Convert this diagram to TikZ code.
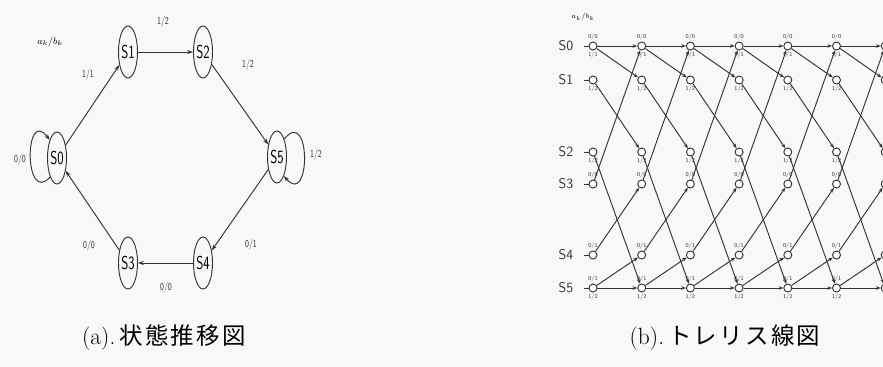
\documentclass[tikz,border=0pt]{standalone}
\usepackage{fontspec}
\usepackage{graphicx}
\usetikzlibrary{shapes.geometric,arrows.meta}
\newfontfamily\cjk[LetterSpace=10]{Noto Sans CJK JP}
\definecolor{inkgray}{HTML}{333333}
\definecolor{paper}{HTML}{F8F8F6}
\newcommand{\nar}[1]{\scalebox{0.72}[1]{#1}}

\begin{document}
\begin{tikzpicture}[x=0.03cm,y=-0.03cm,
    >={Stealth[length=5pt,width=3.5pt]},
    state/.style={ellipse,draw=inkgray,line width=0.8pt,minimum width=0.57cm,
      minimum height=1.56cm,inner sep=0pt,font=\fontsize{16}{16}\sffamily},
    sedge/.style={->,draw=inkgray,line width=0.8pt},
    elabel/.style={font=\fontsize{9}{9}\sffamily,text=inkgray},
    tnode/.style={circle,draw=inkgray,fill=white,line width=0.8pt,
      minimum size=0.24cm,inner sep=0pt},
    tedge/.style={draw=inkgray,line width=0.8pt,
      -{Stealth[length=4pt,width=3pt]}},
    tlab/.style={font=\fontsize{5}{5}\sffamily,text=inkgray,inner sep=0.8pt},
    rowlab/.style={font=\fontsize{12}{12}\sffamily,text=inkgray},
    caption/.style={font=\fontsize{20}{24}\selectfont}]
  \useasboundingbox (0,0) rectangle (883,367);
  \fill[paper] (0,0) rectangle (883,367);
  \clip (0,0) rectangle (883,367);

  % (a) state diagram
  \node[state] (s0) at (57,158) {\nar{S0}};
  \node[state] (s1) at (128,52) {\nar{S1}};
  \node[state] (s2) at (203,52) {\nar{S2}};
  \node[state] (s5) at (277,157) {\nar{S5}};
  \node[state] (s4) at (203,263) {\nar{S4}};
  \node[state] (s3) at (128,263) {\nar{S3}};
  \draw[sedge] (s0) -- (s1);
  \draw[sedge] (s1) -- (s2);
  \draw[sedge] (s2) -- (s5);
  \draw[sedge] (s5) -- (s4);
  \draw[sedge] (s4) -- (s3);
  \draw[sedge] (s3) -- (s0);
  \draw[sedge] (s0.-110) .. controls (24,206) and (24,106) .. (s0.112);
  \draw[sedge] (s5.68) .. controls (311,106) and (311,208) .. (s5.-70);
  \node[font=\fontsize{8}{8}\selectfont] (ab1) at (50,42) {$a_k/b_k$};
  \node[elabel] (l01) at (88,75) {\nar{1/1}};
  \node[elabel] (l12) at (163,22) {\nar{1/2}};
  \node[elabel] (l25) at (248,65) {\nar{1/2}};
  \node[elabel] (l55) at (316,155) {\nar{1/2}};
  \node[elabel] (l00) at (20,160) {\nar{0/0}};
  \node[elabel] (l54) at (251,245) {\nar{0/1}};
  \node[elabel] (l43) at (166,288) {\nar{0/0}};
  \node[elabel] (l30) at (89,246) {\nar{0/0}};
  \node[caption] (capa) at (164,338) {(a).\,{\cjk 状態推移図}};

  % (b) trellis
  \node[font=\fontsize{6}{6}\selectfont] (ab2) at (583,17) {$a_k/b_k$};
  \foreach \r/\y in {0/46,1/80,2/152,3/184,4/255,5/288}{
    \node[rowlab] (row\r) at (566,\y) {S\r};
    \foreach \c in {0,...,6}
      \node[tnode] (n\r-\c) at (593+48.7*\c,\y) {};
    \draw[draw=inkgray,line width=0.8pt,shorten <=0.2cm] (row\r.east) -- (n\r-0);
  }
  \foreach \c [evaluate=\c as \d using int(\c+1)] in {0,...,5}
    \foreach \a/\b in {0/0,0/1,1/2,2/5,3/0,4/3,5/5,5/4}
      \draw[tedge] (n\a-\c) -- (n\b-\d);
  \foreach \r/\side/\opp/\txt in {0/north/south/{0/0},0/south/north/{1/1},
      1/south/north/{1/2},2/south/north/{1/2},3/north/south/{0/0},
      4/north/south/{0/1},5/north/south/{0/1},5/south/north/{1/2}}
    \foreach \c in {0,...,5}
      \node[tlab,anchor=\opp] (t\r\side\c) at (n\r-\c.\side) {\txt};
  \node[caption] (capb) at (725,338) {(b).\,{\cjk トレリス線図}};
\end{tikzpicture}
\end{document}
